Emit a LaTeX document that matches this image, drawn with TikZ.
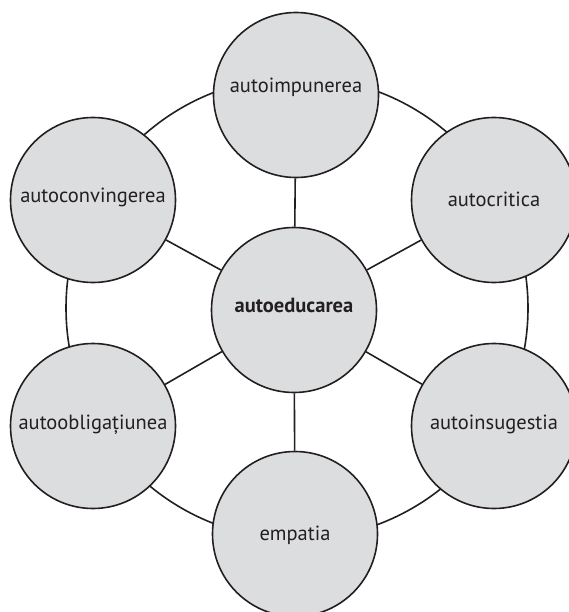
\documentclass[tikz,border=0pt]{standalone}
\usepackage{fontspec}
\setmainfont{PT Sans}
\definecolor{inkdark}{HTML}{231F20}
\definecolor{bubblefill}{HTML}{DCDDDF}
\begin{document}
\begin{tikzpicture}[x=1pt,y=-1pt,
  bubble/.style={circle,draw=inkdark,fill=bubblefill,line width=1.6pt,
    minimum size=165pt,inner sep=0pt},
  link/.style={draw=inkdark,line width=1.6pt},
  lbl/.style={text=inkdark,font=\fontsize{20.5}{22}\selectfont,inner sep=0pt},
  hub/.style={lbl,font=\fontsize{20.5}{22}\selectfont\bfseries}]
\useasboundingbox (0,0) rectangle (569,612);
% outer ring behind everything
\coordinate (ringc) at (297,308);
\draw[link] (ringc) circle (231);
% centre and the six surrounding bubbles
\node[bubble] (c)  at (294,310) {};
\node[bubble] (n)  at (296,95)  {};
\node[bubble] (s)  at (295,534) {};
\node[bubble] (nw) at (93,200)  {};
\node[bubble] (sw) at (93,426)  {};
\node[bubble] (ne) at (494,200) {};
\node[bubble] (se) at (494,426) {};
% spokes
\foreach \o in {n,s,nw,sw,ne,se} \draw[link] (c) -- (\o);
% labels
\node[hub] (tc)  at (294,305) {autoeducarea};
\node[lbl] (tn)  at (296,87)  {autoimpunerea};
\node[lbl] (ts)  at (295,535) {empatia};
\node[lbl] (tnw) at (93,197)  {autoconvingerea};
\node[lbl] (tsw) at (93,425)  {autoobligațiunea};
\node[lbl] (tne) at (494,199) {autocritica};
\node[lbl] (tse) at (494,424) {autoinsugestia};
\end{tikzpicture}
\end{document}
